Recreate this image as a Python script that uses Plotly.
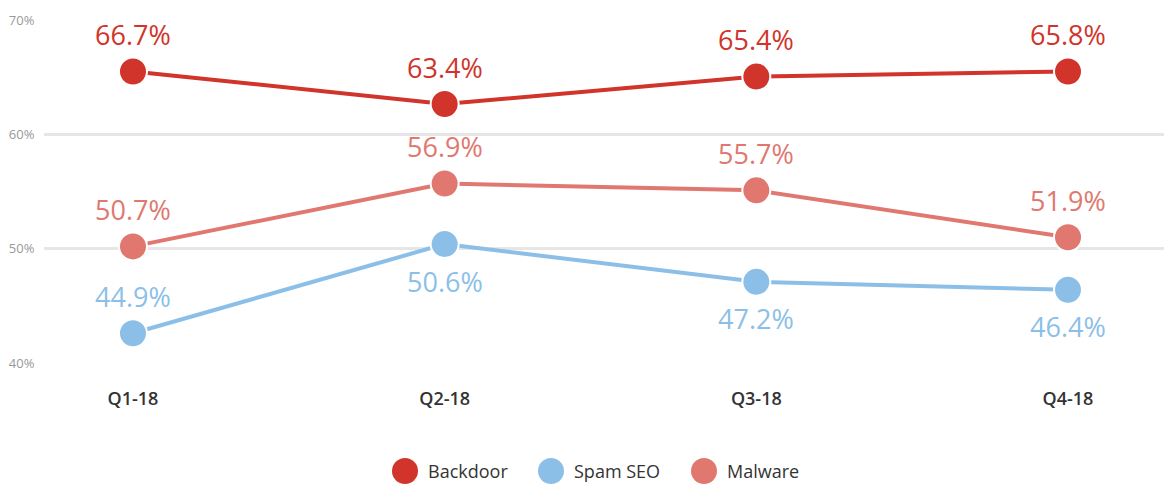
import plotly.graph_objects as go

quarters = ["Q1-18", "Q2-18", "Q3-18", "Q4-18"]
backdoor = [65.5, 62.65, 65.05, 65.5]
spam_seo = [42.6, 50.4, 47.1, 46.4]
malware = [50.2, 55.7, 55.1, 51.0]
backdoor_labels = ["66.7%", "63.4%", "65.4%", "65.8%"]
spam_labels = ["44.9%", "50.6%", "47.2%", "46.4%"]
malware_labels = ["50.7%", "56.9%", "55.7%", "51.9%"]
spam_label_side = [1, -1, -1, -1]
y_ticks = [40, 50, 60, 70]
y_tick_text = ["40%", "50%", "60%", "70%"]

series = [
    ("Backdoor", backdoor, backdoor_labels, "#d0342a", [1, 1, 1, 1]),
    ("Spam SEO", spam_seo, spam_labels, "#8bbfe8", spam_label_side),
    ("Malware", malware, malware_labels, "#e07870", [1, 1, 1, 1]),
]

FONT = "Open Sans"
W, H = 1164, 484
L, R, T, B = 44, 0, 20, 121
PW, PH = W - L - R, H - T - B

fig = go.Figure()
xs = list(range(len(quarters)))
annotations = []
shapes = []
for name, vals, labels, color, sides in series:
    fig.add_trace(go.Scatter(
        x=xs, y=vals, name=name, mode="lines+markers", showlegend=False,
        line=dict(color=color, width=4),
        marker=dict(size=28, color=color, line=dict(color="white", width=2)),
        cliponaxis=False, hoverinfo="skip",
    ))
    for x, v, lab, s in zip(xs, vals, labels, sides):
        annotations.append(dict(
            x=x, y=v, xref="x", yref="y", text=lab, showarrow=False,
            yshift=37 * s, font=dict(family=FONT, size=27, color=color),
        ))

# manual legend (large circle symbols)
legend_px = [405, 551, 704]
legend_py = 471
for (name, _, _, color, _), px in zip(series, legend_px):
    xp = (px - L) / PW
    yp = (H - B - legend_py) / PH
    shapes.append(dict(
        type="circle", xref="paper", yref="paper",
        xsizemode="pixel", ysizemode="pixel", xanchor=xp, yanchor=yp,
        x0=-13, x1=13, y0=-13, y1=13,
        fillcolor=color, line=dict(width=0),
    ))
    annotations.append(dict(
        x=xp, y=yp, xref="paper", yref="paper", text=name, showarrow=False,
        xanchor="left", yanchor="middle", xshift=21,
        font=dict(family=FONT, size=18, color="#333333"),
    ))

fig.update_layout(
    width=W, height=H,
    margin=dict(l=L, r=R, t=T, b=B, autoexpand=False),
    paper_bgcolor="white", plot_bgcolor="white",
    font=dict(family=FONT),
    showlegend=False,
    annotations=annotations,
    shapes=shapes,
    xaxis=dict(
        range=[-0.2855, 3.308], tickmode="array", tickvals=xs, ticktext=quarters,
        showgrid=False, zeroline=False, showline=False, automargin=False,
        ticks="outside", ticklen=19, tickcolor="rgba(0,0,0,0)",
        tickfont=dict(family=FONT, size=18, color="#333333", weight=600),
    ),
    yaxis=dict(
        range=[40, 70], tickmode="array", tickvals=y_ticks, ticktext=y_tick_text,
        showgrid=True, gridcolor="#e6e6e6", gridwidth=3, zeroline=False, showline=False,
        automargin=False,
        ticks="outside", ticklen=6, tickcolor="rgba(0,0,0,0)",
        tickfont=dict(family=FONT, size=13, color="#999999"),
    ),
)

fig.write_html(
    "out.html",
    config={"displayModeBar": False},
    post_script="document.body.style.margin='0';document.body.style.overflow='hidden';",
)
